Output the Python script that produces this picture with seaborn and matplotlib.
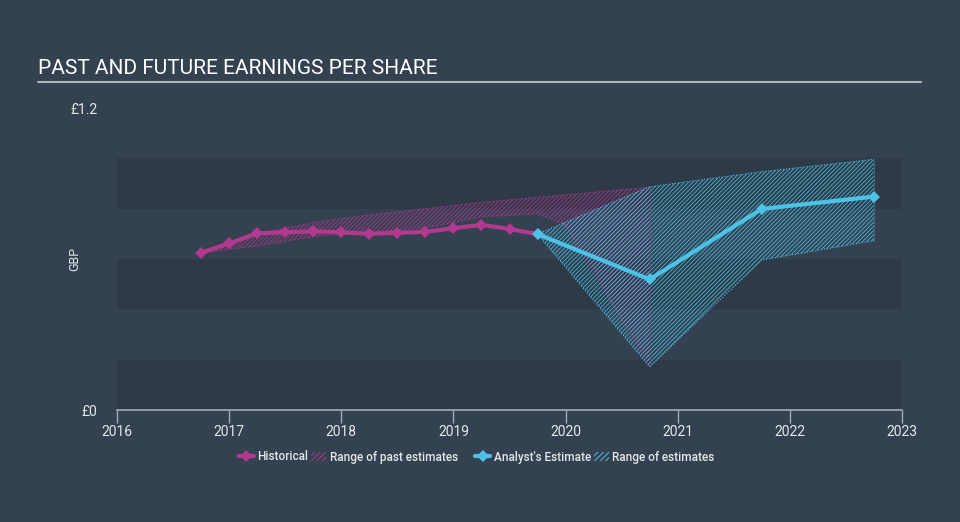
import matplotlib
matplotlib.use("Agg")
import matplotlib.pyplot as plt
import seaborn as sns
from matplotlib.lines import Line2D
from matplotlib.patches import Patch

# ==============================
# Data
# ==============================
hist_x = [2016.75, 2017.0, 2017.25, 2017.5, 2017.75, 2018.0, 2018.25,
          2018.5, 2018.75, 2019.0, 2019.25, 2019.5, 2019.75]
hist_eps = [0.625, 0.662, 0.702, 0.706, 0.710, 0.706, 0.700,
            0.704, 0.708, 0.722, 0.736, 0.719, 0.699]

past_x = [2016.75, 2017.25, 2017.75, 2018.25, 2018.75, 2019.25, 2019.75, 2020.0, 2020.75]
past_low = [0.625, 0.652, 0.689, 0.708, 0.723, 0.768, 0.779, 0.735, 0.175]
past_high = [0.625, 0.700, 0.745, 0.775, 0.800, 0.825, 0.845, 0.855, 0.885]

fc_x = [2019.75, 2020.75, 2021.75, 2022.75]
fc_eps = [0.699, 0.519, 0.799, 0.848]
fc_low = [0.699, 0.172, 0.596, 0.673]
fc_high = [0.699, 0.887, 0.947, 0.996]

x_ticks = [2016, 2017, 2018, 2019, 2020, 2021, 2022, 2023]
y_ticks = [0, 1.2]
y_tick_labels = ["£0", "£1.2"]

# ==============================
# Style
# ==============================
BG = "#344151"
BAND = "#2e3a48"
MAGENTA = "#b3388f"
CYAN = "#4cc2e6"
TEXT = "#e4e7ea"
AXIS = "#a3abb4"
HATCH = "////////"

sns.set_style("dark")
plt.rcParams["font.family"] = ["Roboto", "DejaVu Sans"]
plt.rcParams["hatch.linewidth"] = 0.7

fig = plt.figure(figsize=(9.6, 5.22), dpi=100, facecolor=BG)
ax = fig.add_axes([117 / 960, 1 - 410 / 522, 785 / 960, 302 / 522])
ax.set_facecolor(BG)

# alternating bands
for lo in [0.0, 0.4, 0.8]:
    ax.axhspan(lo, lo + 0.2, color=BAND, lw=0, zorder=0)

# ==============================
# Ranges of estimates
# ==============================
ax.fill_between(past_x, past_low, past_high, facecolor="none",
                edgecolor=MAGENTA, hatch=HATCH, lw=0, alpha=0.75, zorder=1)
ax.fill_between(fc_x, fc_low, fc_high, facecolor="none",
                edgecolor=CYAN, hatch=HATCH, lw=0, alpha=0.8, zorder=2)
for ys in [past_low, past_high]:
    sns.lineplot(x=past_x, y=ys, ax=ax, color=MAGENTA, lw=0.8, ls=":", zorder=2)
for ys in [fc_low, fc_high]:
    sns.lineplot(x=fc_x, y=ys, ax=ax, color=CYAN, lw=0.8, ls=":", zorder=3)
ax.vlines(past_x[-1], past_low[-1], past_high[-1], color=MAGENTA, lw=0.6, ls=":", zorder=2)
ax.vlines(fc_x[-1], fc_low[-1], fc_high[-1], color=CYAN, lw=0.6, ls=":", zorder=3)

# ==============================
# EPS lines
# ==============================
sns.lineplot(x=hist_x, y=hist_eps, ax=ax, color=MAGENTA, lw=3, marker="D",
             markersize=6, markeredgewidth=0, zorder=5)
sns.lineplot(x=fc_x, y=fc_eps, ax=ax, color=CYAN, lw=3, marker="D",
             markersize=6, markeredgewidth=0, zorder=6)

# ==============================
# Axes
# ==============================
ax.set_xlim(2016, 2023)
ax.set_ylim(0, 1.2)
ax.set_xticks(x_ticks)
ax.set_xticklabels([str(t) for t in x_ticks])
ax.set_yticks(y_ticks)
ax.set_yticklabels(y_tick_labels)
ax.grid(False)
for side in ["top", "right", "left"]:
    ax.spines[side].set_visible(False)
ax.spines["bottom"].set_color(AXIS)
ax.spines["bottom"].set_linewidth(1.2)
ax.tick_params(axis="x", length=9, width=1, color=AXIS, labelcolor=TEXT,
               labelsize=10, pad=2, direction="out", bottom=True)
ax.tick_params(axis="y", length=0, labelcolor=TEXT, labelsize=10, pad=14)
ax.set_ylabel("GBP", color=TEXT, fontsize=9)
ax.yaxis.set_label_coords(-0.045, 0.5)

# ==============================
# Title
# ==============================
fig.text(38 / 960, 1 - 69 / 522, "PAST AND FUTURE EARNINGS PER SHARE",
         color="white", fontsize=15, va="center", ha="left")
fig.add_artist(Line2D([38 / 960, 921 / 960], [1 - 82 / 522] * 2,
                      transform=fig.transFigure, color="#aeb5bd", lw=1.5))

# ==============================
# Legend
# ==============================
left_handles = [
    Line2D([], [], color=MAGENTA, lw=3, marker="D", markersize=6, markeredgewidth=0),
    Patch(facecolor="none", edgecolor=MAGENTA, hatch="//////", lw=0),
]
right_handles = [
    Line2D([], [], color=CYAN, lw=3, marker="D", markersize=6, markeredgewidth=0),
    Patch(facecolor="none", edgecolor=CYAN, hatch="//////", lw=0),
]
leg_kw = dict(ncol=2, frameon=False, fontsize=8.5, labelcolor=TEXT,
              handlelength=1.3, handletextpad=0.3, columnspacing=0.2,
              handleheight=0.8, borderpad=0, borderaxespad=0,
              prop={"weight": "medium", "size": 8.5})
fig.legend(left_handles, ["Historical", "Range of past estimates"],
           loc="center right", bbox_to_anchor=(458 / 960, 1 - 457 / 522), **leg_kw)
fig.legend(right_handles, ["Analyst's Estimate", "Range of estimates"],
           loc="center left", bbox_to_anchor=(475 / 960, 1 - 457 / 522), **leg_kw)

fig.savefig("out.png", dpi=100, facecolor=BG)
